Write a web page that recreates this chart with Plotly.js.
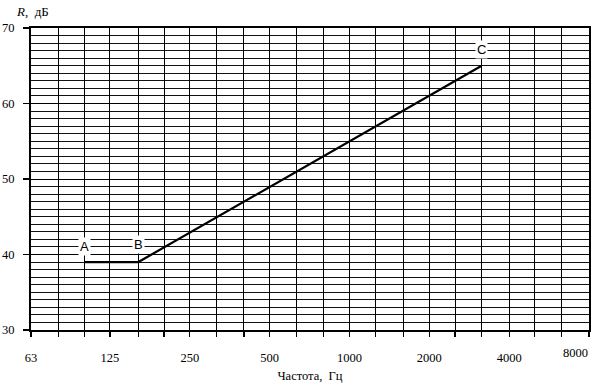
<!DOCTYPE html>
<html><head><meta charset="utf-8">
<script src="https://cdn.plot.ly/plotly-3.0.1.min.js"></script>
<style>html,body{margin:0;padding:0;background:#fff}</style>
</head><body><div id="chart" style="width:600px;height:383px"></div>
<script>
// data
var freqs = [100, 160, 3150];
var rValues = [39, 39, 65];
var pointLabels = ["A", "B", "C"];
var labelFreqs = [100, 160, 3150];
var labelR = [41.0, 41.3, 67.2];
var thirdOctaves = [63, 80, 100, 125, 160, 200, 250, 315, 400, 500, 630, 800, 1000, 1250, 1600, 2000, 2500, 3150, 4000, 5000, 6300, 8000];
var octaveLabels = {63:"63",125:"125",250:"250",500:"500",1000:"1000",2000:"2000",4000:"4000",8000:"8000"};
var lastFreq = 8000;
var yTicks = [30, 40, 50, 60, 70];

var tickText = thirdOctaves.map(function(f){ return (f !== lastFreq && octaveLabels[f]) || ""; });

var trace = {
  x: freqs, y: rValues, type: "scatter", mode: "lines",
  line: {color: "#000", width: 2.2}, hoverinfo: "skip", showlegend: false
};

var annotations = pointLabels.map(function(t, i){
  return {x: Math.log10(labelFreqs[i]), y: labelR[i], text: t, showarrow: false,
    xref: "x", yref: "y", bgcolor: "#fff", borderpad: 1,
    font: {family: "Liberation Sans, Arial, sans-serif", size: 13, color: "#000"}};
});
// last octave label, kept inside the page like in the reference
annotations.push({x: Math.log10(lastFreq), y: 0, xref: "x", yref: "paper",
  xanchor: "right", yanchor: "top", yshift: -14, xshift: 1,
  text: octaveLabels[lastFreq], showarrow: false,
  font: {family: "Liberation Serif, Times New Roman, serif", size: 12.5, color: "#000"}});
annotations.push({xref: "paper", yref: "paper", x: -0.03, y: 1.085, xanchor: "left", yanchor: "top",
  text: "<i>R</i>,  дБ", showarrow: false,
  font: {family: "Liberation Serif, Times New Roman, serif", size: 13, color: "#000"}});

var layout = {
  width: 600, height: 383,
  margin: {l: 31, r: 11, t: 28, b: 53},
  paper_bgcolor: "#fff", plot_bgcolor: "#fff",
  font: {family: "Liberation Serif, Times New Roman, serif", size: 12.5, color: "#000"},
  xaxis: {
    type: "log", range: [Math.log10(63), Math.log10(8000)],
    tickvals: thirdOctaves, ticktext: tickText,
    showgrid: true, gridcolor: "#000", gridwidth: 1,
    ticks: "outside", ticklen: 5, tickwidth: 1.2, tickcolor: "#000",
    ticklabelstandoff: 10,
    showline: true, linecolor: "#000", linewidth: 2, mirror: true,
    zeroline: false,
    title: {text: "Частота,  Гц", standoff: 8, font: {size: 12.5}}
  },
  yaxis: {
    range: [30, 70], tickvals: yTicks,
    showgrid: true, gridcolor: "#000", gridwidth: 1,
    minor: {dtick: 1, showgrid: true, gridcolor: "#111", gridwidth: 1, ticks: ""},
    ticks: "outside", ticklen: 6, tickwidth: 1.2, tickcolor: "#000",
    ticklabelstandoff: 6,
    showline: true, linecolor: "#000", linewidth: 2, mirror: true,
    zeroline: false
  },
  annotations: annotations
};

Plotly.newPlot("chart", [trace], layout, {displayModeBar: false, staticPlot: true});
</script></body></html>
